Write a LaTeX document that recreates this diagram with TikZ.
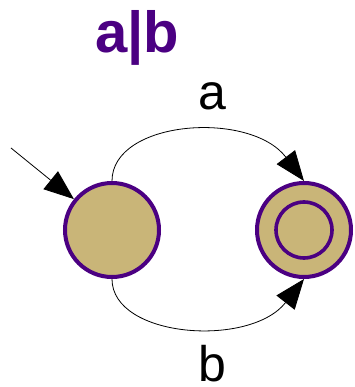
\documentclass[tikz,border=0pt]{standalone}
\usepackage{fontspec}
\setmainfont{Liberation Sans}
\usetikzlibrary{arrows.meta}
\definecolor{statefill}{RGB}{201,181,120}
\definecolor{stateline}{RGB}{75,0,130}

\begin{document}
\begin{tikzpicture}[x=1pt, y=-1pt,
    state/.style={circle, draw=stateline, fill=statefill, line width=4pt, minimum size=94pt, inner sep=0pt},
    ring/.style={circle, draw=stateline, line width=3.6pt, minimum size=56pt, inner sep=0pt},
    trans/.style={line width=0.8pt, -{Triangle[length=30pt, width=23pt]}}]
  \useasboundingbox (0,0) rectangle (354,387);
  \coordinate (S) at (11,148);

  \node[state] (q0) at (112,230) {};
  \node[state] (q1) at (304,230) {};
  \node[ring] (q1i) at (q1) {};

  \draw[trans] (S) -- (q0);
  % a on top, b underneath
  \draw[trans] (q0.north) .. controls (112,120) and (250,110) .. (q1.north);
  \draw[trans] (q0.south) .. controls (112,338) and (250,348) .. (q1.south);

  \node[anchor=base, text=stateline, font=\fontsize{58}{70}\selectfont\bfseries] (title) at (137,53) {a|b};
  \node[anchor=base, font=\fontsize{50}{60}\selectfont] (la) at (212,110) {a};
  \node[anchor=base, font=\fontsize{50}{60}\selectfont] (lb) at (212,381) {b};
\end{tikzpicture}
\end{document}
